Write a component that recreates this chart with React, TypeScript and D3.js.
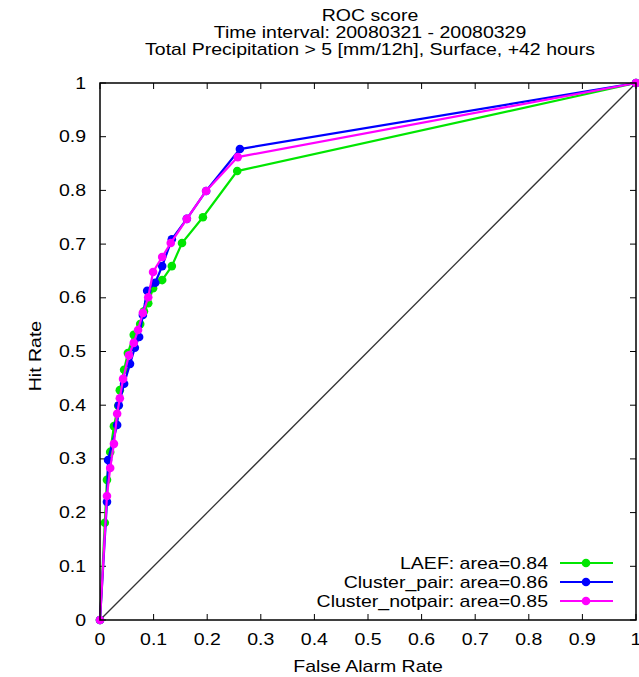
import React from "react";
import * as d3 from "d3";

const titleLines = [
  "ROC score",
  "Time interval: 20080321 - 20080329",
  "Total Precipitation > 5 [mm/12h], Surface, +42 hours",
];
const xTicks = [0, 0.1, 0.2, 0.3, 0.4, 0.5, 0.6, 0.7, 0.8, 0.9, 1];
const yTicks = [0, 0.1, 0.2, 0.3, 0.4, 0.5, 0.6, 0.7, 0.8, 0.9, 1];

const laefFar = [0, 0.009, 0.013, 0.019, 0.026, 0.034, 0.037, 0.045, 0.052, 0.063, 0.075, 0.082, 0.09, 0.099, 0.116, 0.134, 0.153, 0.192, 0.256, 1];
const laefHr = [0, 0.181, 0.261, 0.313, 0.361, 0.399, 0.428, 0.466, 0.497, 0.531, 0.551, 0.575, 0.59, 0.618, 0.633, 0.659, 0.702, 0.75, 0.836, 1];

const pairFar = [0, 0.013, 0.015, 0.032, 0.035, 0.045, 0.056, 0.065, 0.073, 0.08, 0.088, 0.103, 0.116, 0.134, 0.162, 0.198, 0.261, 1];
const pairHr = [0, 0.22, 0.298, 0.363, 0.4, 0.44, 0.477, 0.507, 0.527, 0.568, 0.613, 0.628, 0.659, 0.709, 0.747, 0.799, 0.877, 1];

const notpairFar = [0, 0.013, 0.019, 0.026, 0.032, 0.037, 0.043, 0.054, 0.063, 0.071, 0.08, 0.09, 0.099, 0.116, 0.132, 0.162, 0.198, 0.257, 1];
const notpairHr = [0, 0.231, 0.283, 0.328, 0.384, 0.413, 0.449, 0.493, 0.516, 0.54, 0.572, 0.601, 0.648, 0.676, 0.702, 0.747, 0.799, 0.862, 1];

const seriesNames = ["LAEF: area=0.84", "Cluster_pair: area=0.86", "Cluster_notpair: area=0.85"];
const seriesColors = ["#00e600", "#0000ff", "#ff00ff"];

const SX = 1.22;

function T(props: { x: number; y: number; anchor?: string; rotate?: number; children: React.ReactNode }) {
  const { x, y, anchor = "start", rotate = 0, children } = props;
  return (
    <text
      transform={`translate(${x},${y}) rotate(${rotate}) scale(${SX},1)`}
      textAnchor={anchor as any}
      fill="#000"
    >
      {children}
    </text>
  );
}

export default function App() {
  const left = 100, right = 636, top = 83, bottom = 620;
  const x = d3.scaleLinear().domain([0, 1]).range([left, right]);
  const y = d3.scaleLinear().domain([0, 1]).range([bottom, top]);
  const series = [
    { far: laefFar, hr: laefHr },
    { far: pairFar, hr: pairHr },
    { far: notpairFar, hr: notpairHr },
  ];
  const line = d3.line<[number, number]>().x((d) => x(d[0])).y((d) => y(d[1]));
  const font = "'Liberation Sans', Arial, sans-serif";
  const tickLen = 6;
  const legendY = [563, 582, 601];
  return (
    <svg
      width={639}
      height={677}
      style={{ position: "absolute", left: 0, top: 0, background: "#fff" }}
      fontFamily={font}
      fontSize={16}
    >
      <rect x={0} y={0} width={639} height={677} fill="#fff" />
      {titleLines.map((t, i) => (
        <T key={i} x={370} y={21 + i * 17} anchor="middle">
          {t}
        </T>
      ))}
      {xTicks.map((t) => (
        <g key={"x" + t}>
          <line x1={x(t)} x2={x(t)} y1={bottom} y2={bottom - tickLen} stroke="#000" strokeWidth={1} />
          <line x1={x(t)} x2={x(t)} y1={top} y2={top + tickLen} stroke="#000" strokeWidth={1} />
          <T x={x(t)} y={bottom + 25} anchor="middle">
            {String(t)}
          </T>
        </g>
      ))}
      {yTicks.map((t) => (
        <g key={"y" + t}>
          <line x1={left} x2={left + tickLen} y1={y(t)} y2={y(t)} stroke="#000" strokeWidth={1} />
          <line x1={right} x2={right - tickLen} y1={y(t)} y2={y(t)} stroke="#000" strokeWidth={1} />
          <T x={left - 14} y={y(t) + 5.5} anchor="end">
            {String(t)}
          </T>
        </g>
      ))}
      <T x={368} y={672} anchor="middle">
        False Alarm Rate
      </T>
      <text
        transform={`translate(41,356) rotate(-90) scale(${SX},1)`}
        textAnchor="middle"
        fill="#000"
      >
        Hit Rate
      </text>
      <line x1={x(0)} y1={y(0)} x2={x(1)} y2={y(1)} stroke="#333" strokeWidth={1.3} />
      {series.map((s, i) => {
        const pts: [number, number][] = s.far.map((f, j) => [f, s.hr[j]]);
        return (
          <g key={i}>
            <path d={line(pts) || ""} fill="none" stroke={seriesColors[i]} strokeWidth={2.2} />
            {pts.map((p, j) => (
              <circle key={j} cx={x(p[0])} cy={y(p[1])} r={4.3} fill={seriesColors[i]} />
            ))}
          </g>
        );
      })}
      {seriesNames.map((n, i) => (
        <g key={n}>
          <T x={548} y={legendY[i] + 5.5} anchor="end">
            {n}
          </T>
          <line x1={560} x2={613} y1={legendY[i]} y2={legendY[i]} stroke={seriesColors[i]} strokeWidth={2.2} />
          <circle cx={586} cy={legendY[i]} r={4.3} fill={seriesColors[i]} />
        </g>
      ))}
      <rect x={left} y={top} width={right - left} height={bottom - top} fill="none" stroke="#000" strokeWidth={1.5} />
    </svg>
  );
}
